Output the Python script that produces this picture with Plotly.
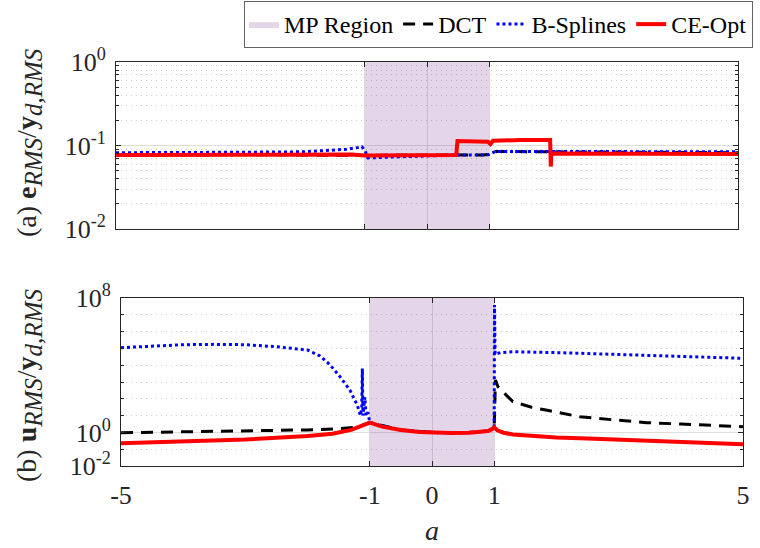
import plotly.graph_objects as go

# ---------------- data ----------------
mp_region = [-1, 1]
x_ticks = [-5, -1, 0, 1, 5]
x_ticktext = ["-5", "-1", "0", "1", "5"]

# Panel (a): e_RMS / y_d,RMS
a_ce_x = [-5, -4, -3, -2, -1.5, -1.2, -1.0, -0.5, 0.0, 0.47, 0.49, 0.6, 0.9, 0.98, 1.02,
          1.06, 1.5, 1.98, 1.99, 2.0, 2.02, 3, 4, 5]
a_ce_y = [0.077, 0.077, 0.078, 0.078, 0.079, 0.078, 0.076, 0.076, 0.076, 0.077, 0.113, 0.113,
          0.113, 0.111, 0.104, 0.114, 0.116, 0.116, 0.056, 0.080, 0.080, 0.080, 0.080, 0.079]
a_bs_x = [-5, -4, -3, -2, -1.5, -1.3, -1.1, -1.05, -1.0, -0.95, -0.5, 0, 0.5, 0.9, 1.0, 1.1,
          1.5, 2, 3, 4, 5]
a_bs_y = [0.082, 0.082, 0.083, 0.084, 0.087, 0.090, 0.095, 0.097, 0.088, 0.071, 0.073, 0.075,
          0.077, 0.077, 0.078, 0.085, 0.085, 0.084, 0.084, 0.084, 0.084]
a_dct_x = [-5, -3, -1, 0, 0.5, 0.9, 1.0, 1.1, 2, 3, 5]
a_dct_y = [0.077, 0.078, 0.076, 0.076, 0.077, 0.077, 0.078, 0.085, 0.084, 0.083, 0.082]

# Panel (b): u_RMS / y_d,RMS
b_ce_x = [-5, -4, -3, -2, -1.6, -1.3, -1.1, -1.0, -0.8, -0.5, -0.2, 0, 0.3, 0.6, 0.8, 0.9,
          0.97, 1.0, 1.05, 1.15, 1.3, 1.6, 2.0, 2.5, 3.0, 3.5, 4.0, 4.5, 5.0]
b_ce_y = [0.224, 0.282, 0.380, 0.603, 0.832, 1.41, 2.51, 3.80, 2.19, 1.38, 1.07, 1.0, 0.933,
          0.955, 1.05, 1.20, 1.58, 2.0, 1.32, 0.955, 0.759, 0.603, 0.501, 0.427, 0.372, 0.316,
          0.275, 0.234, 0.200]
b_dct_x = [-5, -4, -3, -2, -1.5, -1.2, -1.0, -0.5, 0, 0.5, 0.9, 1.0, 1.02, 1.06, 1.3, 1.6,
           1.83, 2.1, 2.38, 3.0, 3.45, 4.0, 5.0]
b_dct_y = [0.955, 1.07, 1.20, 1.41, 1.66, 2.09, 3.80, 1.38, 1.0, 0.955, 1.20, 2.0, 1318, 525,
           67.6, 31.6, 21.4, 13.2, 8.51, 5.25, 3.80, 3.16, 2.19]
b_bs_x = [-5, -4.5, -4, -3.5, -3, -2.5, -2, -1.8, -1.64, -1.48, -1.32, -1.2, -1.15, -1.13,
          -1.12, -1.11, -1.08, -1.06, -1.03, -1.0, -0.5, 0, 0.5, 0.9, 0.99, 1.0, 1.005, 1.015,
          1.1, 1.3, 2.0, 3.0, 3.45, 4.0, 5.0]
b_bs_y = [1.10e5, 1.41e5, 1.66e5, 1.74e5, 1.66e5, 1.26e5, 7.94e4, 3.55e4, 1.05e4, 2090, 331,
          39.8, 10.0, 31.6, 6310, 10.0, 126, 10.0, 15.8, 3.80, 1.38, 1.0, 0.955, 1.20, 1.78,
          2.0, 3.8e7, 4.47e4, 5.62e4, 6.31e4, 5.62e4, 4.47e4, 3.98e4, 3.31e4, 2.57e4]

ya_range = [1e-2, 1e0]
yb_range = [1e-2, 1e8]

# ---------------- figure ----------------
FONT = "Times New Roman, Liberation Serif, Tinos, Times, serif"
TXT = "#262626"
region_fill = "rgba(126,47,142,0.2)"
c_dct, c_bs, c_ce = "black", "blue", "red"

fig = go.Figure()


def add_panel(xa, ya, yr, dct, bs, ce, show):
    r0, r1 = mp_region
    fig.add_trace(go.Scatter(x=[r0, r1, r1, r0, r0], y=[yr[0], yr[0], yr[1], yr[1], yr[0]],
                             fill="toself", fillcolor=region_fill, mode="lines",
                             line=dict(width=0, color=region_fill), name="MP Region",
                             legendgroup="mp", showlegend=show, hoverinfo="skip",
                             xaxis=xa, yaxis=ya))
    fig.add_trace(go.Scatter(x=dct[0], y=dct[1], mode="lines", name="DCT",
                             line=dict(color=c_dct, width=3, dash="12px,8px"),
                             legendgroup="dct", showlegend=show, xaxis=xa, yaxis=ya))
    fig.add_trace(go.Scatter(x=bs[0], y=bs[1], mode="lines", name="B-Splines",
                             line=dict(color=c_bs, width=3, dash="3px,3px"),
                             legendgroup="bs", showlegend=show, xaxis=xa, yaxis=ya))
    fig.add_trace(go.Scatter(x=ce[0], y=ce[1], mode="lines", name="CE-Opt",
                             line=dict(color=c_ce, width=4),
                             legendgroup="ce", showlegend=show, xaxis=xa, yaxis=ya))


add_panel("x", "y", ya_range, (a_dct_x, a_dct_y), (a_bs_x, a_bs_y), (a_ce_x, a_ce_y), True)
add_panel("x2", "y2", yb_range, (b_dct_x, b_dct_y), (b_bs_x, b_bs_y), (b_ce_x, b_ce_y), False)

H = 548
W = 760
axis_common = dict(showline=True, linecolor=TXT, linewidth=1, mirror="ticks", ticks="inside",
                   ticklen=5, tickcolor=TXT, zeroline=False, automargin=False,
                   tickfont=dict(family=FONT, size=26, color=TXT))
grid_major = dict(showgrid=True, gridcolor="rgb(222,222,222)", gridwidth=1)
minor_grid = dict(ticks="inside", ticklen=3, tickcolor=TXT, showgrid=True,
                  gridcolor="rgb(205,205,205)", griddash="1px,4px", gridwidth=1)

xaxis_base = dict(range=[-5, 5], tickmode="array", tickvals=x_ticks, ticktext=x_ticktext,
                  **axis_common, **grid_major)

a_minor = [m * 10.0 ** e for e in (-2, -1) for m in range(2, 10)]
b_minor = [10.0 ** e for e in range(-1, 8) if e != 0]

fig.update_layout(
    width=W, height=H, margin=dict(l=0, r=0, t=0, b=0, autoexpand=False),
    paper_bgcolor="white", plot_bgcolor="white",
    font=dict(family=FONT, color=TXT, size=24),
    xaxis=dict(domain=[116 / W, 738 / W], anchor="y", showticklabels=False, **xaxis_base),
    yaxis=dict(domain=[(H - 229) / H, (H - 62) / H], anchor="x", type="log", range=[-2, 0],
               tickmode="array", tickvals=[1e-2, 1e-1, 1e0],
               ticktext=["10<sup>-2</sup>", "10<sup>-1</sup>", "10<sup>0</sup>"],
               ticklabelstandoff=4,
               minor=dict(tickmode="array", tickvals=a_minor, **minor_grid),
               **axis_common, **grid_major),
    xaxis2=dict(domain=[121 / W, 743 / W], anchor="y2", showticklabels=True, ticklabelstandoff=6,
                **xaxis_base),
    yaxis2=dict(domain=[(H - 466) / H, (H - 298) / H], anchor="x2", type="log", range=[-2, 8],
                tickmode="array", tickvals=[1e-2, 1e0, 1e8],
                ticktext=["10<sup>-2</sup>", "10<sup>0</sup>", "10<sup>8</sup>"],
                ticklabelstandoff=4,
                minor=dict(tickmode="array", tickvals=b_minor, **minor_grid),
                **axis_common, **grid_major),
    legend=dict(orientation="h", x=753 / W, xanchor="right", y=1 - 1 / H, yanchor="top",
                bgcolor="white", bordercolor="rgb(100,100,100)", borderwidth=1,
                font=dict(family=FONT, size=24, color="black"),
                tracegroupgap=0),
    showlegend=True,
)

SUB = '<sub><span style="font-size:25px"><i>{}</i></span></sub>'
title_a = "(a) <b>e</b>" + SUB.format("RMS") + "/<b>y</b>" + SUB.format("d,RMS")
title_b = "(b) <b>u</b>" + SUB.format("RMS") + "/<b>y</b>" + SUB.format("d,RMS")

fig.add_annotation(text=title_a, xref="paper", yref="paper", x=29 / W, y=(H - 143) / H,
                   textangle=-90, showarrow=False, font=dict(family=FONT, size=28, color=TXT),
                   xanchor="center", yanchor="middle")
fig.add_annotation(text=title_b, xref="paper", yref="paper", x=29 / W, y=(H - 386) / H,
                   textangle=-90, showarrow=False, font=dict(family=FONT, size=28, color=TXT),
                   xanchor="center", yanchor="middle")
fig.add_annotation(text="<i>a</i>", xref="paper", yref="paper", x=432 / W, y=(H - 530) / H,
                   showarrow=False, font=dict(family=FONT, size=28, color=TXT),
                   xanchor="center", yanchor="middle")

fig.write_html("out.html")
